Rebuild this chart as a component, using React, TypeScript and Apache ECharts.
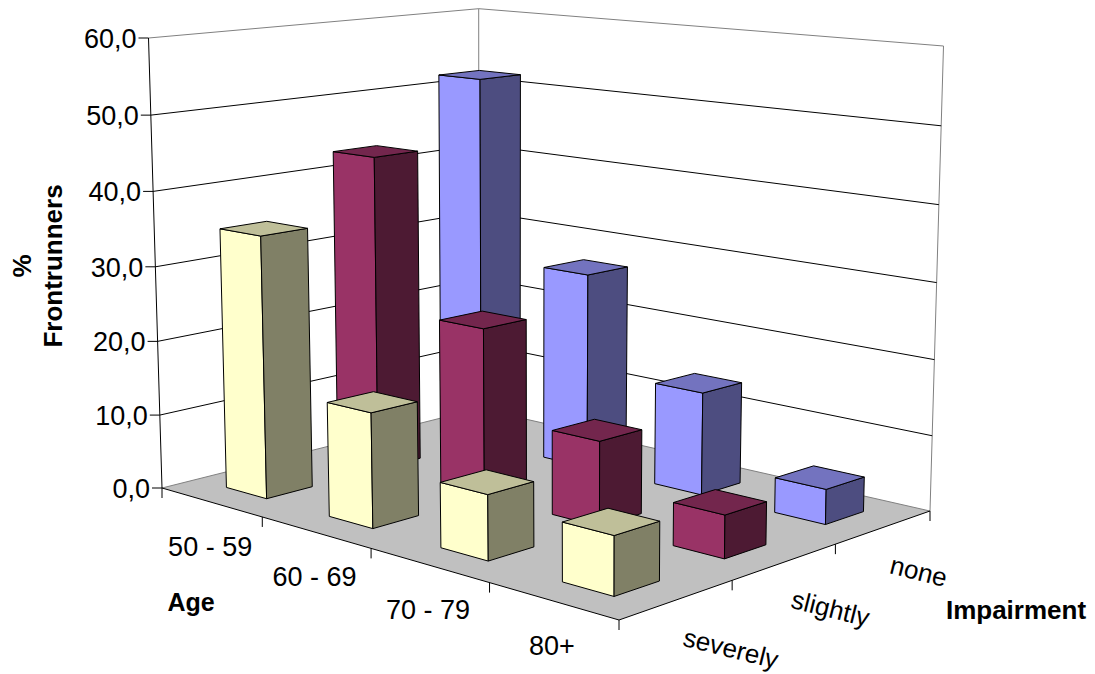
import React, { useEffect, useRef } from "react";
import * as echarts from "echarts";

const ages = ["50 - 59", "60 - 69", "70 - 79", "80+"];
const impairments = ["severely", "slightly", "none"];
const valueTicks = [0, 10, 20, 30, 40, 50, 60];
const valueTickLabels = ["0,0", "10,0", "20,0", "30,0", "40,0", "50,0", "60,0"];

const severelyValues = [35, 15, 8.3, 7.3];
const slightlyValues = [43.1, 22.6, 11.1, 5.5];
const noneValues = [51.9, 26.9, 13.8, 4.6];

const WIDTH = 1095;
const HEIGHT = 674;
const FONT = '"Liberation Sans", Arial, sans-serif';
const BAR_FOOTPRINT = 0.4;

// Screen corners of the plot box used to build the perspective transform.
const FLOOR = {
  left: [162, 488],
  front: [619, 620],
  right: [930, 511],
  back: [479, 408.5],
};
const TOP = {
  left: [148.5, 38],
  right: [943.5, 46],
  back: [478.7, 8.7],
};

function buildProjection() {
  const [x0, y0] = FLOOR.left;
  const [x1, y1] = FLOOR.front;
  const [x2, y2] = FLOOR.right;
  const [x3, y3] = FLOOR.back;
  const dx1 = x1 - x2;
  const dx2 = x3 - x2;
  const sx = x0 - x1 + x2 - x3;
  const dy1 = y1 - y2;
  const dy2 = y3 - y2;
  const sy = y0 - y1 + y2 - y3;
  const den = dx1 * dy2 - dx2 * dy1;
  const g = (sx * dy2 - dx2 * sy) / den;
  const h = (dx1 * sy - sx * dy1) / den;
  const a = x1 - x0 + g * x1;
  const b = x3 - x0 + h * x3;
  const d = y1 - y0 + g * y1;
  const e = y3 - y0 + h * y3;

  // Vertical axis terms, solved from the three visible top corners.
  const dLeft = 1;
  const dRight = 1 + g + h;
  const dBack = 1 + h;
  const W =
    ((TOP.left[0] - x0) * dLeft - (TOP.right[0] - x2) * dRight) /
    (TOP.right[0] - TOP.left[0]);
  const Ax =
    ((TOP.left[0] - x0) * dLeft + TOP.left[0] * W +
      (TOP.right[0] - x2) * dRight + TOP.right[0] * W) / 2;
  const Ay =
    ((TOP.left[1] - y0) * dLeft + TOP.left[1] * W +
      (TOP.right[1] - y2) * dRight + TOP.right[1] * W +
      (TOP.back[1] - y3) * dBack + TOP.back[1] * W) / 3;

  const perspective = (u: number, v: number, w: number): [number, number] => {
    const q = g * u + h * v + 1 + W * w;
    return [
      (a * u + b * v + x0 + Ax * w) / q,
      (d * u + e * v + y0 + Ay * w) / q,
    ];
  };

  // A small planar correction, growing with height, lands the top corners exactly.
  const pLeft = perspective(0, 0, 1);
  const pBack = perspective(0, 1, 1);
  const pRight = perspective(1, 1, 1);
  const residual = (axis: number) => ({
    base: TOP.left[axis] - pLeft[axis],
    perV: TOP.back[axis] - pBack[axis] - (TOP.left[axis] - pLeft[axis]),
    perU: TOP.right[axis] - pRight[axis] - (TOP.back[axis] - pBack[axis]),
  });
  const rx = residual(0);
  const ry = residual(1);

  return (u: number, v: number, w: number): [number, number] => {
    const p = perspective(u, v, w);
    return [
      p[0] + w * (rx.base + rx.perV * v + rx.perU * u),
      p[1] + w * (ry.base + ry.perV * v + ry.perU * u),
    ];
  };
}

const project = buildProjection();
const BLACK_LINE = { stroke: "#000", lineWidth: 1, fill: "none" };
const GREY_LINE = { stroke: "#808080", lineWidth: 1, fill: "none" };

function line(p: number[], q: number[], style: object) {
  return {
    type: "line",
    shape: { x1: p[0], y1: p[1], x2: q[0], y2: q[1] },
    style,
  };
}

function text(content: string, x: number, y: number, extra: any = {}) {
  const { rotation, ...style } = extra;
  return {
    type: "text",
    x,
    y,
    rotation: rotation || 0,
    style: {
      text: content,
      font: `27px ${FONT}`,
      fill: "#000",
      textAlign: "center",
      textVerticalAlign: "middle",
      ...style,
    },
  };
}

function levelOf(api: any, tick: number) {
  return 1 - api.coord([0, tick])[1] / HEIGHT;
}

function renderFrame(_params: any, api: any) {
  const children: any[] = [];
  children.push({
    type: "polygon",
    shape: {
      points: [
        project(0, 0, 0),
        project(1, 0, 0),
        project(1, 1, 0),
        project(0, 1, 0),
      ],
    },
    style: { fill: "#C0C0C0", stroke: "none" },
  });

  // Floor rear edges and the wall outline.
  children.push(line(project(0, 0, 0), project(0, 1, 0), GREY_LINE));
  children.push(line(project(0, 1, 0), project(1, 1, 0), GREY_LINE));
  children.push(line(project(0, 1, 0), project(0, 1, 1), GREY_LINE));
  children.push(line(project(0, 0, 1), project(0, 1, 1), GREY_LINE));
  children.push(line(project(0, 1, 1), project(1, 1, 1), GREY_LINE));
  children.push(line(project(1, 1, 0), project(1, 1, 1), GREY_LINE));

  // Gridlines run along both walls.
  valueTicks.forEach((tick) => {
    if (tick === 0 || tick === 60) return;
    const w = levelOf(api, tick);
    children.push(line(project(0, 0, w), project(0, 1, w), BLACK_LINE));
    children.push(line(project(0, 1, w), project(1, 1, w), BLACK_LINE));
  });

  // Value axis with its tick marks and labels.
  children.push(line(project(0, 0, 0), project(0, 0, 1), BLACK_LINE));
  valueTicks.forEach((tick, i) => {
    const p = project(0, 0, levelOf(api, tick));
    children.push(line([p[0] - 10, p[1]], p, BLACK_LINE));
    children.push(
      text(valueTickLabels[i], p[0] - 12, p[1] + 1, { textAlign: "right" }),
    );
  });

  // Front floor edges with category ticks.
  children.push(line(project(0, 0, 0), project(1, 0, 0), BLACK_LINE));
  children.push(line(project(1, 0, 0), project(1, 1, 0), BLACK_LINE));
  const firstAgeTick = project(0, 0, 0);
  children.push(line(firstAgeTick, [firstAgeTick[0], firstAgeTick[1] + 10], BLACK_LINE));
  ages.forEach((label, i) => {
    const tick = project((i + 1) / ages.length, 0, 0);
    children.push(line(tick, [tick[0], tick[1] + 10], BLACK_LINE));
    const mid = project((i + 0.5) / ages.length, 0, 0);
    children.push(text(label, mid[0] - 1, mid[1] + 45));
  });
  impairments.forEach((label, i) => {
    const tick = project(1, (i + 1) / impairments.length, 0);
    children.push(line(tick, [tick[0], tick[1] + 10], BLACK_LINE));
    const mid = project(1, (i + 0.5) / impairments.length, 0);
    children.push(
      text(label, mid[0] + 7, mid[1] + 37, {
        font: `26px ${FONT}`,
        textAlign: "left",
        rotation: (-14 * Math.PI) / 180,
      }),
    );
  });

  children.push(
    text("%\nFrontrunners", 37, 266, {
      font: `bold 26px ${FONT}`,
      rotation: Math.PI / 2,
      lineHeight: 31,
    }),
  );
  children.push(text("Age", 191, 602, { font: `bold 25px ${FONT}` }));
  children.push(text("Impairment", 1016, 610, { font: `bold 26px ${FONT}` }));

  return { type: "group", children };
}

function barRenderer(depthIndex: number, colors: { face: string; top: string; side: string }) {
  return (_params: any, api: any) => {
    const point = api.coord([api.value(0), api.value(1)]);
    const uMid = point[0] / WIDTH;
    const w = 1 - point[1] / HEIGHT;
    const uHalf = (api.size([1, 0])[0] / WIDTH) * BAR_FOOTPRINT * 0.5;
    const vMid = (depthIndex + 0.5) / impairments.length;
    const vHalf = (BAR_FOOTPRINT * 0.5) / impairments.length;
    const u0 = uMid - uHalf;
    const u1 = uMid + uHalf;
    const v0 = vMid - vHalf;
    const v1 = vMid + vHalf;
    const face = (points: number[][], fill: string) => ({
      type: "polygon",
      shape: { points },
      style: { fill, stroke: "#000", lineWidth: 1, lineJoin: "round" },
    });
    return {
      type: "group",
      children: [
        face(
          [project(u0, v0, 0), project(u1, v0, 0), project(u1, v0, w), project(u0, v0, w)],
          colors.face,
        ),
        face(
          [project(u1, v0, 0), project(u1, v1, 0), project(u1, v1, w), project(u1, v0, w)],
          colors.side,
        ),
        face(
          [project(u0, v0, w), project(u1, v0, w), project(u1, v1, w), project(u0, v1, w)],
          colors.top,
        ),
      ],
    };
  };
}

function barSeries(values: number[], depthIndex: number, colors: any) {
  return {
    type: "custom",
    name: impairments[depthIndex],
    silent: true,
    clip: false,
    renderItem: barRenderer(depthIndex, colors),
    encode: { x: 0, y: 1 },
    data: values.map((value, i) => [i, value]),
  };
}

export default function App() {
  const ref = useRef<HTMLDivElement>(null);

  useEffect(() => {
    document.body.style.margin = "0";
    const chart = echarts.init(ref.current, undefined, { renderer: "svg" });
    chart.setOption({
      animation: false,
      backgroundColor: "#fff",
      grid: { left: 0, right: 0, top: 0, bottom: 0 },
      xAxis: { type: "category", data: ages, show: false },
      yAxis: { type: "value", min: 0, max: 60, interval: 10, show: false },
      series: [
        {
          type: "custom",
          name: "frame",
          silent: true,
          clip: false,
          renderItem: renderFrame,
          encode: { x: 0, y: 1 },
          data: [[0, 0]],
        },
        barSeries(noneValues, 2, { face: "#9999FF", top: "#7373BF", side: "#4D4D80" }),
        barSeries(slightlyValues, 1, { face: "#993366", top: "#73264D", side: "#4D1A33" }),
        barSeries(severelyValues, 0, { face: "#FFFFCC", top: "#BFBF99", side: "#808066" }),
      ],
    });
    return () => chart.dispose();
  }, []);

  return <div ref={ref} style={{ width: WIDTH, height: HEIGHT }} />;
}
